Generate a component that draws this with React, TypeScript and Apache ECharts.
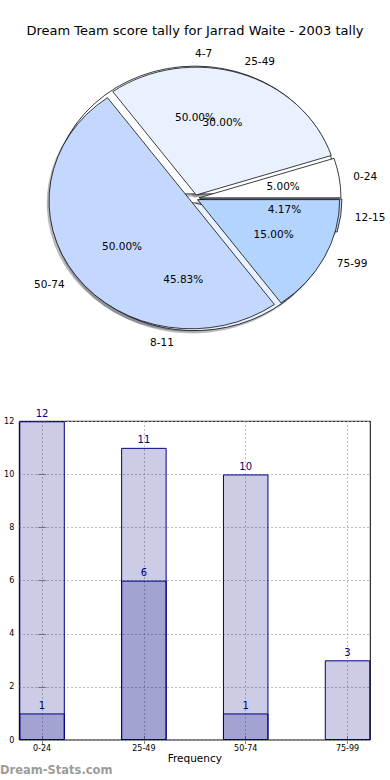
import React, { useEffect, useRef } from "react";
import * as echarts from "echarts";

const chartTitle = "Dream Team score tally for Jarrad Waite - 2003 tally";

// Pie 1: score ranges
const scoreRanges = ["0-24", "25-49", "50-74", "75-99"];
const scoreRangeCounts = [1, 6, 10, 3];
const scoreRangeColors = ["#ffffff", "#e9f1ff", "#c4d8ff", "#b3d4ff"];
const scoreRangeExplode = [4, 4, 5, 3];

// Pie 2: rank ranges
const rankRanges = ["4-7", "8-11", "12-15"];
const rankRangeCounts = [12, 11, 1];
const rankRangeColors = ["#ffffff", "#e9f1ff", "#c4d8ff"];
const rankRangeExplode = [5, 5, 5];

// Bar chart
const barCategories = ["0-24", "25-49", "50-74", "75-99"];
const barTotals = [12, 11, 10, 3];
const barSubset = [1, 6, 1, 0];

const xAxisName = "Frequency";
const yAxisName = "Scores in tally";
const watermark = "Dream-Stats.com";

const FONT = "DejaVu Sans";
const PIE_CX = 195;
const PIE_CY = 198.4;
const PIE_RX = 142;
const PIE_RY = 127.8;

function shadowColor(hex: string) {
  const n = parseInt(hex.slice(1), 16);
  const r = Math.round(((n >> 16) & 255) * 0.3);
  const g = Math.round(((n >> 8) & 255) * 0.3);
  const b = Math.round((n & 255) * 0.3);
  return `rgb(${r},${g},${b})`;
}

function pieLayer(
  names: string[],
  values: number[],
  colors: string[],
  explode: number[],
  layer: "shadow" | "wedge" | "label",
  z: number
) {
  const total = values.reduce((a, b) => a + b, 0);
  const k = PIE_RY / PIE_RX;
  return {
    type: "custom",
    coordinateSystem: "none",
    silent: true,
    z,
    data: values.map((v) => [v]),
    renderItem: (params: any, api: any) => {
      const i = params.dataIndex;
      let before = 0;
      for (let j = 0; j < i; j++) before += values[j];
      const v = api.value(0);
      const a1 = (before / total) * Math.PI * 2;
      const a2 = ((before + v) / total) * Math.PI * 2;
      const am = (a1 + a2) / 2;
      const d = explode[i];
      if (layer === "label") {
        const L = 1.1 * PIE_RX + d;
        const P = 0.6 * PIE_RX + d;
        return {
          type: "group",
          children: [
            {
              type: "text",
              x: PIE_CX + L * Math.cos(am),
              y: PIE_CY - L * Math.sin(am) * k,
              style: {
                text: names[i],
                align: Math.cos(am) > 0 ? "left" : "right",
                verticalAlign: "middle",
                fontFamily: FONT,
                fontSize: 10.5,
                fill: "#000",
              },
            },
            {
              type: "text",
              x: PIE_CX + P * Math.cos(am),
              y: PIE_CY - P * Math.sin(am) * k,
              style: {
                text: ((v / total) * 100).toFixed(2) + "%",
                align: "center",
                verticalAlign: "middle",
                fontFamily: FONT,
                fontSize: 10.5,
                fill: "#000",
              },
            },
          ],
        };
      }
      const isShadow = layer === "shadow";
      const col = isShadow ? shadowColor(colors[i]) : colors[i];
      return {
        type: "group",
        x: PIE_CX + (isShadow ? -2 : 0),
        y: PIE_CY + (isShadow ? 2.5 : 0),
        scaleY: k,
        children: [
          {
            type: "sector",
            shape: {
              cx: d * Math.cos(am),
              cy: -d * Math.sin(am),
              r: PIE_RX,
              r0: 0,
              startAngle: -a1,
              endAngle: -a2,
              clockwise: false,
            },
            style: {
              fill: col,
              stroke: isShadow ? col : "#000",
              lineWidth: isShadow ? 0.5 : 0.8,
              strokeNoScale: true,
              opacity: isShadow ? 0.35 : 1,
            },
          },
        ],
      };
    },
  };
}

export default function App() {
  const ref = useRef<HTMLDivElement>(null);
  useEffect(() => {
    if (!ref.current) return;
    const chart = echarts.init(ref.current, undefined, { renderer: "svg" });
    const catIdx = barCategories.map((_, i) => i);
    const gridLine = { type: [1.5, 2.5], color: "#a8a8a8", width: 1 };
    const option: any = {
      animation: false,
      backgroundColor: "#fff",
      textStyle: { fontFamily: FONT },
      graphic: [
        {
          type: "text",
          x: 195,
          y: 30,
          style: {
            text: chartTitle,
            align: "center",
            verticalAlign: "middle",
            fontFamily: FONT,
            fontSize: 13,
            fill: "#000",
          },
        },
        {
          type: "text",
          x: 0,
          y: 770,
          style: {
            text: watermark,
            align: "left",
            verticalAlign: "middle",
            fontFamily: FONT,
            fontSize: 11.5,
            fontWeight: "bold",
            fill: "#9c9c9c",
          },
        },
      ],
      grid: {
        left: 19.3,
        right: 19.7,
        top: 421.3,
        bottom: 40,
        show: true,
        borderColor: "#000",
        borderWidth: 1,
        backgroundColor: "transparent",
        containLabel: false,
        outerBoundsMode: "none",
      },
      xAxis: [
        {
          type: "value",
          min: -0.2235,
          max: 3.2235,
          axisLine: { show: false },
          axisTick: {
            customValues: catIdx,
            inside: true,
            length: 4,
            lineStyle: { color: "#888" },
          },
          axisLabel: {
            customValues: catIdx,
            formatter: (v: number) => barCategories[Math.round(v)],
            fontSize: 8,
            color: "#000",
            margin: 4,
            fontFamily: FONT,
          },
          splitLine: { show: true, lineStyle: gridLine },
          name: xAxisName,
          nameLocation: "middle",
          nameGap: 12,
          nameTextStyle: { fontSize: 10.5, color: "#000", fontFamily: FONT },
        },
        {
          type: "value",
          position: "top",
          min: -0.2235,
          max: 3.2235,
          axisLine: { show: false },
          axisTick: {
            customValues: catIdx,
            inside: true,
            length: 4,
            lineStyle: { color: "#888" },
          },
          axisLabel: { show: false },
          splitLine: { show: false },
        },
      ],
      yAxis: [
        {
          type: "value",
          min: 0,
          max: 12,
          interval: 2,
          axisLine: { show: false },
          axisTick: { show: true, inside: true, length: 4, lineStyle: { color: "#888" } },
          axisLabel: { fontSize: 8, color: "#000", margin: 5, fontFamily: FONT },
          splitLine: { show: true, lineStyle: gridLine },
          name: yAxisName,
          nameLocation: "middle",
          nameGap: 19,
          nameTextStyle: { fontSize: 10, color: "#000", fontFamily: FONT },
        },
        {
          type: "value",
          position: "right",
          min: 0,
          max: 12,
          interval: 2,
          axisLine: { show: false },
          axisTick: { show: true, inside: true, length: 4, lineStyle: { color: "#888" } },
          axisLabel: { show: false },
          splitLine: { show: false },
        },
      ],
      series: [
        pieLayer(rankRanges, rankRangeCounts, rankRangeColors, rankRangeExplode, "shadow", 1),
        pieLayer(scoreRanges, scoreRangeCounts, scoreRangeColors, scoreRangeExplode, "shadow", 1),
        pieLayer(rankRanges, rankRangeCounts, rankRangeColors, rankRangeExplode, "wedge", 2),
        pieLayer(scoreRanges, scoreRangeCounts, scoreRangeColors, scoreRangeExplode, "wedge", 3),
        pieLayer(rankRanges, rankRangeCounts, rankRangeColors, rankRangeExplode, "label", 4),
        pieLayer(scoreRanges, scoreRangeCounts, scoreRangeColors, scoreRangeExplode, "label", 4),
        {
          type: "bar",
          xAxisIndex: 0,
          yAxisIndex: 0,
          barWidth: 45.5,
          barGap: "-100%",
          data: barTotals.map((v, i) => [i, v]),
          itemStyle: {
            color: "rgba(0,0,128,0.2)",
            borderColor: "#000080",
            borderWidth: 1,
          },
          label: {
            show: true,
            position: "top",
            distance: 3,
            color: "#000080",
            fontSize: 10,
            fontFamily: FONT,
            formatter: (p: any) => String(p.value[1]),
          },
          z: 2,
        },
        {
          type: "bar",
          xAxisIndex: 0,
          yAxisIndex: 0,
          barWidth: 45.5,
          barGap: "-100%",
          data: barSubset
            .map((v, i) => [i, v])
            .filter((d) => d[1] > 0),
          itemStyle: {
            color: "rgba(0,0,128,0.2)",
            borderColor: "#000080",
            borderWidth: 1,
          },
          label: {
            show: true,
            position: "top",
            distance: 3,
            color: "#000080",
            fontSize: 10,
            fontFamily: FONT,
            formatter: (p: any) => String(p.value[1]),
          },
          z: 3,
        },
      ],
    };
    chart.setOption(option);
    return () => chart.dispose();
  }, []);
  return (
    <div
      ref={ref}
      style={{ position: "absolute", left: 0, top: 0, width: 390, height: 780 }}
    />
  );
}
